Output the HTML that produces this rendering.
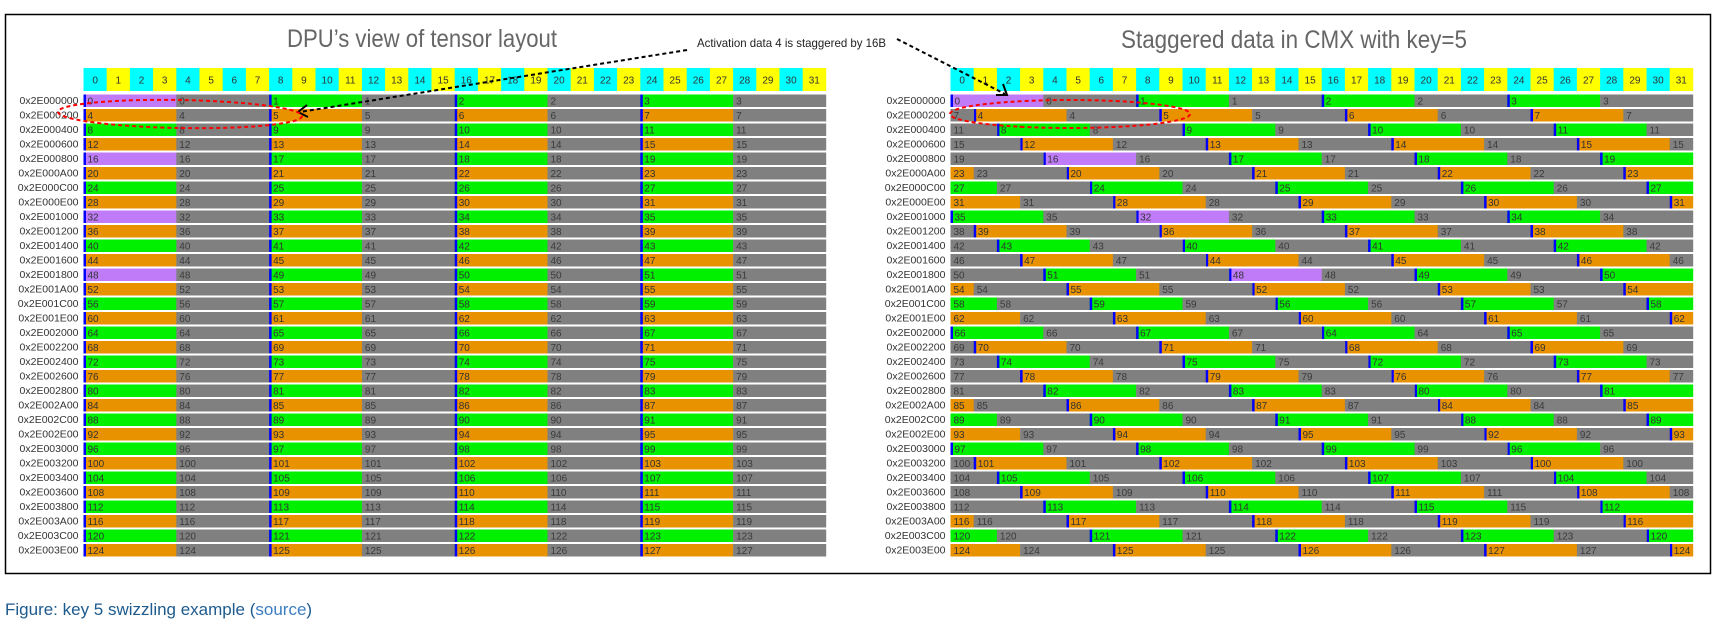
<!DOCTYPE html>
<html><head><meta charset="utf-8"><style>
html,body{margin:0;padding:0;background:#fff;}
svg{display:block;font-family:"Liberation Sans",Arial,sans-serif;}
</style></head><body>
<svg id="fig" width="1722" height="631" viewBox="0 0 1722 631" xmlns="http://www.w3.org/2000/svg">
<rect x="5.5" y="14.5" width="1705" height="559" fill="#fff" stroke="#000" stroke-width="1.5"/>
<text x="287" y="47" font-size="25" fill="#666" textLength="270" lengthAdjust="spacingAndGlyphs">DPU’s view of tensor layout</text>
<text x="1121" y="48" font-size="25" fill="#666" textLength="346" lengthAdjust="spacingAndGlyphs">Staggered data in CMX with key=5</text>
<g id="left"></g>
<g id="right"></g>
<text x="697" y="47" font-size="12" fill="#222" textLength="189" lengthAdjust="spacingAndGlyphs">Activation data 4 is staggered by 16B</text>
<line x1="687" y1="50" x2="300" y2="112" stroke="#000" stroke-width="2" stroke-dasharray="4,3"/>
<path d="M307,105 L298,112 L308,117" fill="none" stroke="#000" stroke-width="2"/>
<line x1="897" y1="39" x2="1005" y2="94" stroke="#000" stroke-width="2" stroke-dasharray="4,3"/>
<path d="M1003,84 L1007,95 L996,95" fill="none" stroke="#000" stroke-width="2"/>
<ellipse cx="180" cy="114" rx="122" ry="14" fill="none" stroke="#f00" stroke-width="2" stroke-dasharray="4,3" transform="rotate(1 180 114)"/>
<ellipse cx="1070" cy="114" rx="120" ry="14" fill="none" stroke="#f00" stroke-width="2" stroke-dasharray="4,3"/>
<text x="5" y="615" font-size="17" fill="#1d5a8e">Figure: key 5 swizzling example (<tspan fill="#3b7dc4">source</tspan>)</text>
</svg>
<script>
const columnLabels = Array.from({length:32},(_,i)=>String(i));
const rowAddresses = ["0x2E000000","0x2E000200","0x2E000400","0x2E000600","0x2E000800","0x2E000A00","0x2E000C00","0x2E000E00","0x2E001000","0x2E001200","0x2E001400","0x2E001600","0x2E001800","0x2E001A00","0x2E001C00","0x2E001E00","0x2E002000","0x2E002200","0x2E002400","0x2E002600","0x2E002800","0x2E002A00","0x2E002C00","0x2E002E00","0x2E003000","0x2E003200","0x2E003400","0x2E003600","0x2E003800","0x2E003A00","0x2E003C00","0x2E003E00"];
const staggerShifts = [0,1,2,3,4,5,6,7,8,9,10,11,12,13,14,15,16,17,18,19,20,21,22,23,24,25,26,27,28,29,30,31];
const purpleValues = [0,16,32,48];
const blocksPerRow = 4;

const NS="http://www.w3.org/2000/svg";
const CW=23.2, ROW0=94.5, PITCH=14.5, RH=12.5, HY=68, HH=23;
const colorOf=(i,v)=>purpleValues.includes(v)?"#c07cf8":(i%2===0?"#00f000":"#e89200");
function mk(parent,tag,attrs){const e=document.createElementNS(NS,tag);for(const k in attrs)e.setAttribute(k,attrs[k]);parent.appendChild(e);return e;}

function drawGrid(g,x0,useShift,prefix){
  const xs=c=>x0+c*CW;
  columnLabels.forEach((lab,c)=>{
    const r=mk(g,"rect",{x:xs(c),y:HY,width:CW+0.3,height:HH,fill:c%2?"#ffff00":"#00ffff"});
    
    
    const t=mk(g,"text",{x:xs(c)+CW/2,y:HY+15.5,"font-size":10,"text-anchor":"middle",fill:"#333"});
    t.textContent=lab;
    
    
  });
  rowAddresses.forEach((addr,i)=>{
    const y=ROW0+i*PITCH;
    const a=mk(g,"text",{x:x0-5,y:y+9.5,"font-size":10.5,"text-anchor":"end",fill:"#333"});
    a.textContent=addr;
    
    
    const sh=useShift?staggerShifts[i]:0;
    for(let b=0;b<blocksPerRow;b++){
      const v=blocksPerRow*i+b;
      const start=8*b+sh;
      [[start,colorOf(i,v)],[start+4,"#808080"]].forEach(([s,fill])=>{
        // split into contiguous pieces
        const pieces=[];let cur=null;
        for(let k=0;k<4;k++){const c=(s+k)%32;if(cur&&c===cur.e){cur.e++;}else{cur={s:c,e:c+1};pieces.push(cur);}}
        pieces.forEach(p=>{
          const r=mk(g,"rect",{x:xs(p.s),y:y,width:(p.e-p.s)*CW+0.3,height:RH,fill:fill});
          
          
          const isStart=(fill!=="#808080"&&p.s===start%32);
          const t=mk(g,"text",{x:xs(p.s)+(isStart?4:3),y:y+10,"font-size":10,fill:fill==="#808080"?"#3a3a3a":"#333"});
          t.textContent=String(v);
          
          
          if(isStart){
            const m=mk(g,"rect",{x:xs(p.s),y:y,width:2.5,height:RH,fill:"#0000ff"});
            
            
          }
        });
      });
    }
  });
}
drawGrid(document.getElementById('left'),83.5,false,'l');
drawGrid(document.getElementById('right'),950.5,true,'r');
</script>
</body></html>
